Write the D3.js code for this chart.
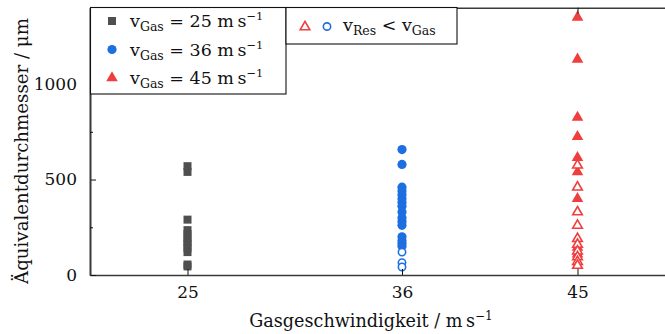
<!DOCTYPE html>
<html>
<head>
<meta charset="utf-8">
<script src="https://cdn.jsdelivr.net/npm/d3@7"></script>
<style>
  html, body { margin: 0; padding: 0; background: #fff; }
  svg { display: block; }
  text { font-family: "DejaVu Serif", serif; fill: #111; }
</style>
</head>
<body>
<svg id="chart" width="665" height="334"></svg>
<script>
// Gas velocities (m/s) at which the droplets were measured
const gasSpeeds = [25, 36, 45];

// Equivalent diameters (µm) per gas velocity
const d25 = [570, 540, 290, 235, 215, 195, 175, 160, 140, 120, 55, 45];
const d36Filled = [657, 579, 460, 440, 420, 400, 380, 360, 330, 300, 280, 260, 200, 180, 165, 150];
const d36Open = [120, 65, 42];              // v_Res < v_Gas
const d45Filled = [1355, 1135, 830, 730, 620, 545, 405, 150, 115];
const d45Open = [580, 465, 335, 265, 195, 165, 130, 100, 75, 55]; // v_Res < v_Gas

const xTicks = [25, 36, 45];
const yTicksMajor = [0, 500, 1000];
const yTicksMinor = [250, 750, 1250];

const legendLabels = ["25", "36", "45"];

const colGray = "#4f4f4f";
const colBlue = "#1d6fe0";
const colRed = "#f03d3d";
const frameCol = "#3a3a3a";

const svg = d3.select("#chart");
const plotL = 90, plotT = 7.7, plotB = 275, plotR = 675;

const x = d3.scaleLinear().domain([20, 50]).range([plotL, plotR]);
const y = d3.scaleLinear().domain([0, 1400]).range([plotB, plotT]);

const plot = svg.append("g");

// markers
const sq = d3.symbol().type(d3.symbolSquare).size(64);
const ci = d3.symbol().type(d3.symbolCircle).size(66);
const tri = d3.symbol().type(d3.symbolTriangle).size(58);
const ciOpen = d3.symbol().type(d3.symbolCircle).size(42);
const triOpen = d3.symbol().type(d3.symbolTriangle).size(40);

plot.selectAll(".s25").data(d25).join("path")
  .attr("d", sq)
  .attr("transform", d => `translate(${x(gasSpeeds[0])},${y(d)})`)
  .attr("fill", colGray);

plot.selectAll(".s36").data(d36Filled).join("path")
  .attr("d", ci)
  .attr("transform", d => `translate(${x(gasSpeeds[1])},${y(d)})`)
  .attr("fill", colBlue);

plot.selectAll(".s36o").data(d36Open).join("path")
  .attr("d", ciOpen)
  .attr("transform", d => `translate(${x(gasSpeeds[1])},${y(d)})`)
  .attr("fill", "#fff").attr("stroke", colBlue).attr("stroke-width", 1.6);

plot.selectAll(".s45").data(d45Filled).join("path")
  .attr("d", tri)
  .attr("transform", d => `translate(${x(gasSpeeds[2])},${y(d) + 1})`)
  .attr("fill", colRed);

plot.selectAll(".s45o").data(d45Open).join("path")
  .attr("d", triOpen)
  .attr("transform", d => `translate(${x(gasSpeeds[2])},${y(d) + 1})`)
  .attr("fill", "#fff").attr("stroke", colRed).attr("stroke-width", 1.6);

// axes
const xAxisB = d3.axisBottom(x).tickValues(xTicks).tickSize(-6).tickPadding(11).tickSizeOuter(0);
const gxb = svg.append("g").attr("transform", `translate(0,${plotB})`).call(xAxisB);
const xAxisT = d3.axisTop(x).tickValues(xTicks).tickSize(-6).tickFormat("").tickSizeOuter(0);
const gxt = svg.append("g").attr("transform", `translate(0,${plotT})`).call(xAxisT);
const yAxis = d3.axisLeft(y).tickValues(yTicksMajor).tickFormat(d3.format("d"))
  .tickSize(-6).tickPadding(13).tickSizeOuter(0);
const gy = svg.append("g").attr("transform", `translate(${plotL},0)`).call(yAxis);
const yMinor = d3.axisLeft(y).tickValues(yTicksMinor).tickSize(-3).tickFormat("").tickSizeOuter(0);
const gym = svg.append("g").attr("transform", `translate(${plotL},0)`).call(yMinor);

[gxb, gxt, gy, gym].forEach(g => {
  g.select(".domain").attr("stroke", frameCol).attr("stroke-width", 1.6);
  g.selectAll(".tick line").attr("stroke", "#111").attr("stroke-width", 1);
  g.selectAll(".tick text").attr("font-family", "DejaVu Serif").attr("font-size", 17).attr("fill", "#111");
});

// axis titles
const xt = svg.append("text").attr("x", 371).attr("y", 327).attr("text-anchor", "middle").attr("font-size", 17.6);
xt.append("tspan").text("Gasgeschwindigkeit / m\u2009s");
xt.append("tspan").attr("dy", -7).attr("font-size", 12).text("\u22121");

svg.append("text")
  .attr("transform", "translate(28,151) rotate(-90)")
  .attr("text-anchor", "middle").attr("font-size", 18.2)
  .text("Äquivalentdurchmesser / μm");

// legend: one entry per gas velocity
const lg = svg.append("g");
lg.append("rect").attr("x", 90.5).attr("y", 7.5).attr("width", 195.5).attr("height", 86.5)
  .attr("fill", "#fff").attr("stroke", "#111").attr("stroke-width", 1.1);
const legSyms = [sq, ci, tri];
const legCols = [colGray, colBlue, colRed];
const rowY = [22, 50.5, 79];
legendLabels.forEach((lab, i) => {
  lg.append("path").attr("d", legSyms[i]).attr("fill", legCols[i])
    .attr("transform", `translate(112,${rowY[i] - 1})`);
  const t = lg.append("text").attr("x", 130).attr("y", rowY[i] + 5).attr("font-size", 17.5);
  t.append("tspan").text("v");
  t.append("tspan").attr("dy", 4).attr("font-size", 12.5).text("Gas");
  t.append("tspan").attr("dy", -4).text(" = " + lab + " m\u2009s");
  t.append("tspan").attr("dy", -7).attr("font-size", 11.5).text("\u22121");
});

// legend for hollow markers
const lg2 = svg.append("g");
lg2.append("rect").attr("x", 286).attr("y", 7.5).attr("width", 171).attr("height", 36.5)
  .attr("fill", "#fff").attr("stroke", "#111").attr("stroke-width", 1.1);
lg2.append("path").attr("d", triOpen).attr("fill", "#fff").attr("stroke", colRed).attr("stroke-width", 1.6)
  .attr("transform", "translate(305,27)");
lg2.append("path").attr("d", ciOpen).attr("fill", "#fff").attr("stroke", colBlue).attr("stroke-width", 1.6)
  .attr("transform", "translate(327,26.5)");
const t2 = lg2.append("text").attr("x", 343).attr("y", 31).attr("font-size", 17.5);
t2.append("tspan").text("v");
t2.append("tspan").attr("dy", 4).attr("font-size", 12.5).text("Res");
t2.append("tspan").attr("dy", -4).text(" < v");
t2.append("tspan").attr("dy", 4).attr("font-size", 12.5).text("Gas");
</script>
</body>
</html>
